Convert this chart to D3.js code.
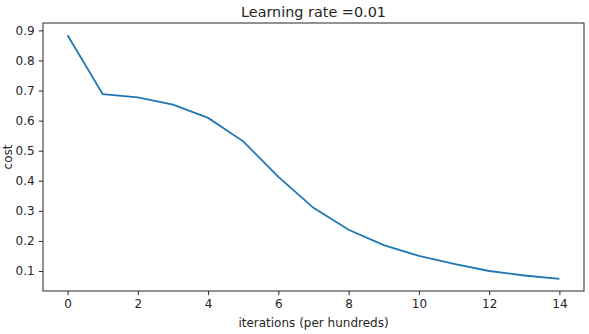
<!DOCTYPE html>
<html><head><meta charset="utf-8">
<script src="https://cdn.jsdelivr.net/npm/d3@7"></script>
<style>
body{margin:0;background:#fff;}
text{font-family:"DejaVu Sans",sans-serif;fill:#262626;}
</style></head>
<body>
<svg id="c" width="589" height="334"></svg>
<script>
const iterations = [0,1,2,3,4,5,6,7,8,9,10,11,12,13,14];
const costs = [0.884,0.688,0.677,0.653,0.609,0.531,0.413,0.310,0.237,0.186,0.150,0.124,0.100,0.085,0.074];
const xTicks = [0,2,4,6,8,10,12,14];
const yTicks = [0.1,0.2,0.3,0.4,0.5,0.6,0.7,0.8,0.9];
const title = "Learning rate =0.01";
const xLabel = "iterations (per hundreds)";
const yLabel = "cost";

const svg = d3.select("#c");
const L=43,T=23,R=584,B=291;
const ymin=d3.min(costs), ymax=d3.max(costs), pad=(ymax-ymin)*0.05;
const x=d3.scaleLinear().domain([-0.7,14.7]).range([L,R]);
const y=d3.scaleLinear().domain([ymin-pad,ymax+pad]).range([B,T]);

const xa=svg.append("g").attr("transform",`translate(0,${B})`)
  .call(d3.axisBottom(x).tickValues(xTicks).tickFormat(d3.format("d")).tickSize(4.2).tickPadding(4.2));
const ya=svg.append("g").attr("transform",`translate(${L},0)`)
  .call(d3.axisLeft(y).tickValues(yTicks).tickFormat(d3.format(".1f")).tickSize(4.2).tickPadding(4.2));
[xa,ya].forEach(a=>{a.select(".domain").remove();a.selectAll("line").attr("stroke","#262626").attr("stroke-width",1);
  a.selectAll("text").attr("font-size",12).attr("font-family","DejaVu Sans").attr("fill","#262626");});

svg.append("rect").attr("x",L).attr("y",T).attr("width",R-L).attr("height",B-T)
  .attr("fill","none").attr("stroke","#262626").attr("stroke-width",1);

svg.append("path").datum(iterations.map((d,i)=>[d,costs[i]]))
  .attr("d",d3.line().x(d=>x(d[0])).y(d=>y(d[1])))
  .attr("fill","none").attr("stroke","#1f77b4").attr("stroke-width",1.8);

svg.append("text").attr("x",(L+R)/2).attr("y",17).attr("text-anchor","middle").attr("font-size",14.4).text(title);
svg.append("text").attr("x",(L+R)/2).attr("y",327).attr("text-anchor","middle").attr("font-size",12).text(xLabel);
svg.append("text").attr("transform",`translate(8,${(T+B)/2}) rotate(-90)`).attr("text-anchor","middle").attr("dy","0.35em").attr("font-size",12).text(yLabel);
</script>
</body></html>
